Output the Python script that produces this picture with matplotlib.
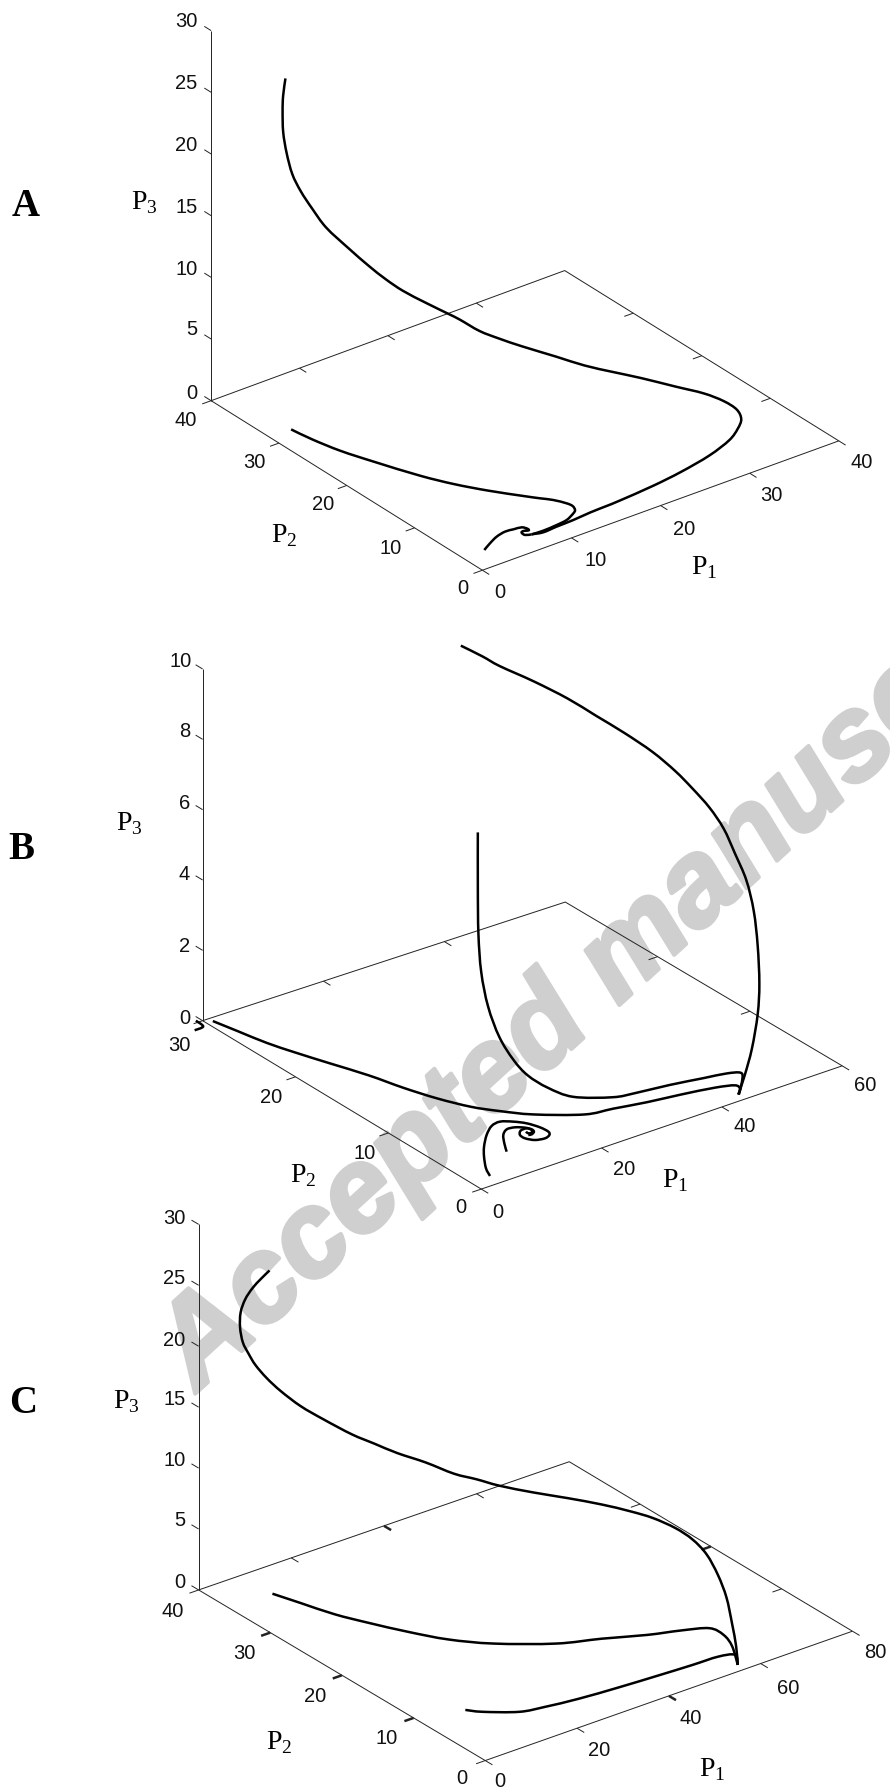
import numpy as np
import matplotlib
matplotlib.use('Agg')
import matplotlib.pyplot as plt
import matplotlib.patheffects as pe
from matplotlib.path import Path
from matplotlib.patches import PathPatch

plt.rcParams['mathtext.fontset'] = 'custom'
plt.rcParams['mathtext.rm'] = 'Liberation Serif'

# ---------- Panel A data ----------
a1_p1 = [7.43,8.68,10.27,11.55,12.78,13.28,13.56,13.44,12.87,12.12,11.20,9.31,7.63,6.17,4.51,3.35,2.64,2.28]
a1_p2 = [2.50,2.42,2.54,2.75,3.38,3.79,4.51,5.24,6.46,7.43,8.68,11.39,14.21,17.31,21.82,25.32,28.57,31.20]
a1_p3 = [0.1]*18
a2_p1 = [2.29,3.45,4.68,5.84,6.70,7.52,7.77,7.68,7.22,6.91,6.89,7.43]
a2_p2 = [2.73,3.42,4.05,4.35,4.24,4.09,3.59,3.26,3.45,3.30,2.77,2.50]
a2_p3 = [0.1]*12
a3_p1 = [7.45,8.48,10.02,11.86,13.87,15.71,17.17,21.09,24.58,28.32,31.19,32.82,33.73,33.79,
         32.84,30.90,28.26,25.40,23.38,20.70,18.29,15.64,13.50,11.56,10.05,9.19,6.74,5.08,
         3.77,2.68,1.83,0.50,0.27,0.02,-0.03,0.56,1.58,3.37,4.87,6.85]
a3_p2 = [2.51,2.18,2.21,2.20,2.32,2.31,2.31,2.61,3.00,3.73,4.57,5.46,6.15,6.90,
         7.58,7.96,8.68,9.94,11.47,12.14,13.15,14.69,15.22,15.60,16.55,17.10,17.23,18.38,
         19.18,20.26,22.06,23.67,25.46,26.80,27.99,29.60,31.45,33.89,35.78,38.04]
a3_p3 = [.1,.1,.15,.2,.25,.3,.35,.4,.5,.6,.8,1,1.3,1.8,2.5,3.5,4.5,5.5,6,7,8,9,10,11,12,12.5,
         14,15,16,17,18,19.5,20.5,21.5,22.5,23.5,24.3,24.7,24.9,25]

# ---------- Panel B data ----------
b1_p1 = [31.53,33.79,35.77,39.79,43.47,46.55,49.63,52.37,54.51,55.76,57.30,58.20,58.12,58.33,
         58.06,56.75,55.15,52.68,49.11,46.10,43.92]
b1_p2 = [22.62,21.76,21.21,20.15,18.87,17.81,16.75,15.47,14.41,13.39,12.55,11.60,10.33,9.24,
         8.27,7.00,5.78,4.36,2.67,1.50,0.77]
b1_p3 = [10,9.7,9.4,8.9,8.4,7.9,7.4,6.9,6.4,6,5.5,5,4.5,3.9,3.2,2.5,1.7,1.2,.7,.3,0]
b2_p1 = [31.42,31.56,31.58,30.72,28.48,26.16,24.87,24.30,24.57,25.98,30.13,33.28,38.31,43.14,
         46.36,48.00,47.04,43.98]
b2_p2 = [20.72,20.81,20.76,19.90,17.71,14.99,12.62,10.73,8.76,6.93,5.34,4.94,4.53,3.99,
         3.63,3.16,2.36,0.75]
b2_p3 = [5,3.4,2.1,1.2,.7,.4,.2,.1,.05,0,0,0,0,0,0,0,0,0]
b3_p1 = [1.02,1.91,2.91,4.24,5.98,8.04,9.51,11.24,13.38,15.65,18.66,24.09,28.11,32.87,
         37.83,42.66,45.18,45.11,43.92]
b3_p2 = [29.56,27.39,24.98,22.79,20.25,17.31,14.59,12.05,9.76,8.18,6.47,4.48,4.03,3.45,
         3.00,2.46,1.95,1.36,0.77]
b3_p3 = [0]*19
b4_p1 = [-0.72,-0.95,-2.53]
b4_p2 = [30.26,29.32,29.22]
b4_p3 = [0]*3
b5_p1 = [2.92,3.84,5.68,7.44,9.77,11.88,13.53,14.95,16.07,16.78,16.91,16.43,15.38,14.02,
         13.26,13.31,14.14,15.19,15.43,14.96,14.49,14.53]
b5_p2 = [0.95,1.98,3.38,4.52,5.75,6.58,6.75,6.23,5.52,4.55,3.73,3.31,3.10,3.30,
         3.88,4.45,4.92,4.95,4.57,4.26,4.32,4.60]
b5_p3 = [0.05]*22
b6_p1 = [8.96,10.18,11.54,12.89,14.13,15.13,15.55,15.38,14.67,14.20]
b6_p2 = [3.07,4.11,5.10,5.61,5.52,5.09,4.64,4.29,4.07,4.13]
b6_p3 = [0.05]*10

# ---------- Panel C data ----------
c1_p1 = [10.31,8.65,6.73,5.10,3.70,2.14,1.32,1.47,1.78,2.55,3.72,5.79,8.68,11.92,
         14.83,18.03,22.00,25.26,28.47,31.51,36.30,41.35,46.51,50.80,54.32,57.06,59.60,62.30,
         63.31,62.67,60.77,58.95,56.55]
c1_p2 = [36.71,36.83,36.79,36.77,36.51,35.59,34.67,33.97,33.22,32.13,30.90,29.45,28.14,26.25,
         24.95,23.83,22.41,20.53,19.43,18.21,16.52,15.00,13.55,12.34,11.43,10.02,9.27,9.02,
         8.08,6.48,4.48,2.75,0.98]
c1_p3 = [26,25.5,25,24.3,23.5,22.8,22,21.3,20.6,19.8,19,18,17,16,15.3,14.5,13.7,13,12.5,12,
         11.4,10.8,10.1,9.4,8.7,8,7,5.5,4,2.8,1.6,.6,0]
c2_p1 = [9.24,10.96,13.04,15.72,19.08,22.80,28.06,36.61,43.94,51.02,56.71,61.12,61.51,60.08,56.55]
c2_p2 = [35.62,32.77,29.34,26.31,22.92,19.75,16.79,13.55,11.91,10.11,9.00,7.86,6.13,4.03,0.98]
c2_p3 = [0]*15
c3_p1 = [8.92,10.82,15.87,20.48,27.04,35.07,43.26,50.34,55.73,58.49,56.55]
c3_p2 = [8.49,7.33,5.41,4.81,4.25,3.85,3.55,3.33,3.22,2.62,0.98]
c3_p3 = [0]*11

# ---------- Tick labels ----------
a_p1_ticks = [0,10,20,30,40]; a_p2_ticks = [0,10,20,30,40]; a_p3_ticks = [0,5,10,15,20,25,30]
b_p1_ticks = [0,20,40,60];    b_p2_ticks = [0,10,20,30];    b_p3_ticks = [0,2,4,6,8,10]
c_p1_ticks = [0,20,40,60,80]; c_p2_ticks = [0,10,20,30,40]; c_p3_ticks = [0,5,10,15,20,25,30]

SX = 1.762
panels = [
    dict(name='A', sy=2.613, yo=0, O=(850,1490), E1=(1478,1152), E2=(372,1047), top=(372,80), back=(995,707),
         p1t=a_p1_ticks, p2t=a_p2_ticks, p3t=a_p3_ticks,
         p1l=[(880,1545),(1050,1460),(1205,1380),(1360,1292),(1518,1205)],
         p2l=[(815,1535),(688,1430),(569,1315),(449,1205),(328,1095)],
         p3l=[(338,1025),(338,857),(328,700),(328,537),(328,375),(328,213),(328,52)],
         lab1=(1240,1480), lab2=(500,1395), lab3=(255,525), let=(45,535),
         curves=[(a1_p1,a1_p2,a1_p3),(a2_p1,a2_p2,a2_p3),(a3_p1,a3_p2,a3_p3)], thick=()),
    dict(name='B', sy=2.613, yo=620, O=(848,1487), E1=(1484,1165), E2=(357,1047), top=(357,128), back=(996,737),
         p1t=b_p1_ticks, p2t=b_p2_ticks, p3t=b_p3_ticks,
         p1l=[(878,1543),(1100,1432),(1313,1320),(1525,1213)],
         p2l=[(812,1530),(642,1390),(477,1245),(316,1108)],
         p3l=[(325,1037),(325,848),(325,660),(325,475),(325,287),(318,105)],
         lab1=(1190,1460), lab2=(535,1448), lab3=(228,528), let=(38,595),
         curves=[(b1_p1,b1_p2,b1_p3),(b2_p1,b2_p2,b2_p3),(b3_p1,b3_p2,b3_p3),
                 (b4_p1,b4_p2,b4_p3),(b5_p1,b5_p2,b5_p3),(b6_p1,b6_p2,b6_p3)], thick=()),
    dict(name='C', sy=2.667, yo=1200, O=(855,1495), E1=(1502,1150), E2=(350,1040), top=(350,65), back=(1003,698),
         p1t=c_p1_ticks, p2t=c_p2_ticks, p3t=c_p3_ticks,
         p1l=[(881,1547),(1056,1463),(1217,1380),(1388,1300),(1543,1203)],
         p2l=[(814,1540),(681,1432),(555,1320),(430,1205),(305,1093)],
         p3l=[(316,1015),(316,850),(307,690),(307,528),(307,370),(307,205),(307,45)],
         lab1=(1255,1515), lab2=(492,1443), lab3=(222,535), let=(40,540),
         curves=[(c1_p1,c1_p2,c1_p3),(c2_p1,c2_p2,c2_p3),(c3_p1,c3_p2,c3_p3)],
         thick=(('b1',40),('b2',20),('b2',40),('b2',60),('f2',10),('f2',20),('f2',30),('f1',40))),
]

fig = plt.figure(figsize=(8.9, 17.88), dpi=100, facecolor='white')
ax = fig.add_axes([0, 0, 1, 1])
ax.set_xlim(0, 890); ax.set_ylim(1788, 0); ax.axis('off')

wm = ax.text(197, 1392, 'Accepted manuscript', rotation=42.5, rotation_mode='anchor', ha='left', va='baseline',
             family='Liberation Sans', weight='bold', style='italic', fontsize=86, color='#cfcfcf', zorder=0,
             clip_on=True)
wm.set_path_effects([pe.withStroke(linewidth=3, foreground='#cfcfcf')])

def smooth_curve(x, y):
    """Draw a line through the projected values with Bezier joins."""
    pts = np.column_stack([x, y])
    n = len(pts)
    verts = [pts[0]]; codes = [Path.MOVETO]
    for i in range(n-1):
        pm = pts[max(i-1, 0)]; p0 = pts[i]; p1 = pts[i+1]; p2 = pts[min(i+2, n-1)]
        verts += [p0+(p1-pm)/6, p1-(p2-p0)/6, p1]
        codes += [Path.CURVE4]*3
    ax.add_patch(PathPatch(Path(verts, codes), fill=False, edgecolor='black', lw=1.8, zorder=3,
                           joinstyle='round', capstyle='butt'))

AX = dict(color='#222222', lw=0.7, zorder=2, solid_capstyle='butt')
for P in panels:
    conv = lambda q, P=P: np.array([q[0]/SX, P['yo'] + q[1]/P['sy']])
    lpos = lambda q, conv=conv: conv(q) + np.array([0, 1.5])
    O, E1, E2, top, back = [conv(P[k]) for k in ('O','E1','E2','top','back')]
    r1, r2, r3 = P['p1t'][-1], P['p2t'][-1], P['p3t'][-1]
    v1 = (E1-O)/r1; v2 = (E2-O)/r2; v3 = (top-E2)/r3

    def project(p1, p2, p3):
        p1, p2, p3 = map(lambda a: np.asarray(a, float), (p1, p2, p3))
        return (O[0]+v1[0]*p1+v2[0]*p2, O[1]+v1[1]*p1+v2[1]*p2+v3[1]*p3)

    poly = np.array([O, E1, back, E2, O])
    ax.plot(poly[:,0], poly[:,1], **AX)
    ax.plot([E2[0], top[0]], [E2[1], top[1]], **AX)

    tl1 = v2*0.025*r2; tl2 = v1*0.025*r1
    def tick(p, d, key, val):
        lw = 1.8 if (key, val) in P['thick'] else 0.7
        style = dict(AX); style['lw'] = lw
        ax.plot([p[0], p[0]+d[0]], [p[1], p[1]+d[1]], **style)
    for t in P['p1t']:
        f = t/r1
        tick(O+(E1-O)*f, -tl1, 'f1', t)                 # front P1 axis
        if 0 < t < r1:
            tick(E2+(back-E2)*f, -tl1, 'b1', t)         # back P1 edge
    for t in P['p2t']:
        f = t/r2
        tick(O+(E2-O)*f, -tl2, 'f2', t)                 # front P2 axis
        if 0 < t < r2:
            tick(E1+(back-E1)*f, -tl2, 'b2', t)         # back P2 edge
    for t in P['p3t']:
        q = E2 + v3*t
        tick(q, tl1, 'p3', t)

    tk = dict(family='Liberation Sans', fontsize=14.5, color='#111111', ha='center', va='center', zorder=4)
    for t, q in zip(P['p1t'], P['p1l']):
        ax.text(*lpos(q), str(t), **tk)
    for t, q in zip(P['p2t'], P['p2l']):
        ax.text(*lpos(q), str(t), **tk)
    for t, q in zip(P['p3t'], P['p3l']):
        ax.text(*lpos(q), str(t), **tk)

    lb = dict(family='Liberation Serif', fontsize=20, color='black', ha='center', va='center', zorder=4)
    ax.text(*lpos(P['lab1']), r'P$_{\mathrm{1}}$', **lb)
    ax.text(*lpos(P['lab2']), r'P$_{\mathrm{2}}$', **lb)
    ax.text(*lpos(P['lab3']), r'P$_{\mathrm{3}}$', **lb)
    ax.text(*lpos(P['let']), P['name'], family='Liberation Serif', weight='bold', fontsize=28,
            color='black', ha='center', va='center', zorder=4)

    for p1, p2, p3 in P['curves']:
        x, y = project(p1, p2, p3)
        smooth_curve(x, y)

fig.savefig('out.png', dpi=100, facecolor='white')
